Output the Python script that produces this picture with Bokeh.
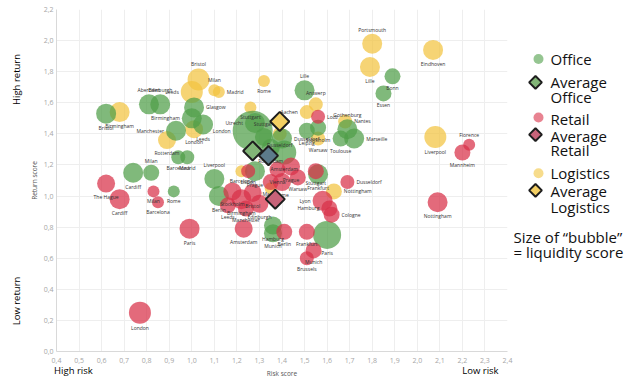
import numpy as np
from bokeh.plotting import figure
from bokeh.models import ColumnDataSource, FixedTicker, LinearAxis, Range1d
from bokeh.layouts import row
from bokeh.embed import file_html
from bokeh.resources import INLINE
from bokeh.core.properties import value, field

# ---------------- data ----------------
office_city = ["Bristol", "Aberdeen", "Edinburgh", "Glasgow", "Birmingham", "Leeds", "Manchester",
               "Barcelona", "Madrid", "Cardiff", "Milan", "Rome", "Liverpool", "Berlin", "London",
               "Utrecht", "Stuttgart", "Dusseldorf", "Rotterdam", "Amsterdam", "Prague", "Lille",
               "Leipzig", "Stockholm", "Gothenburg", "Toulouse", "Marseille", "Bonn", "Essen",
               "Frankfurt", "Hamburg", "Munich", "Paris"]
office_risk = [0.62, 0.81, 0.86, 1.01, 1.00, 1.05, 0.93, 0.94, 0.98, 0.74, 0.82, 0.92, 1.10, 1.12, 1.27,
               1.28, 1.32, 1.40, 1.35, 1.41, 1.28, 1.50, 1.51, 1.56, 1.69, 1.66, 1.72, 1.89, 1.85,
               1.56, 1.36, 1.36, 1.60]
office_return = [1.53, 1.59, 1.59, 1.57, 1.50, 1.46, 1.42, 1.25, 1.25, 1.15, 1.15, 1.03, 1.11, 1.00, 1.42,
                 1.47, 1.38, 1.37, 1.31, 1.28, 1.16, 1.68, 1.42, 1.44, 1.43, 1.37, 1.37, 1.77, 1.66,
                 1.14, 0.81, 0.76, 0.75]
office_liquidity = [2.5, 2.5, 2.5, 2.5, 2.5, 2.5, 2.5, 1.75, 1.75, 2.5, 2.0, 1.5, 2.5, 2.5, 5.0,
                    2.5, 2.25, 2.5, 2.25, 3.0, 2.5, 2.5, 2.0, 2.0, 2.5, 2.0, 2.5, 2.0, 2.0,
                    2.5, 2.25, 2.25, 3.5]

retail_city = ["The Hague", "Cardiff", "Milan", "Barcelona", "Paris", "London", "Amsterdam", "Berlin",
               "Frankfurt", "Munich", "Brussels", "Lyon", "Hamburg", "Cologne", "Dusseldorf", "Stuttgart",
               "Lodz", "Florence", "Mannheim", "Nottingham", "Lisbon", "Vienna", "Prague", "Warsaw",
               "Rome", "Madrid", "Stockholm", "Birmingham", "Bristol", "Edinburgh", "Leeds", "Manchester"]
retail_risk = [0.62, 0.68, 0.83, 0.85, 0.99, 0.77, 1.23, 1.41, 1.51, 1.54, 1.51, 1.58, 1.61, 1.62, 1.69, 1.55,
               1.56, 2.23, 2.20, 2.09, 1.25, 1.38, 1.44, 1.47, 1.40, 1.35, 1.18, 1.22, 1.27, 1.30, 1.16, 1.24]
retail_return = [1.08, 0.98, 1.03, 0.96, 0.79, 0.25, 0.79, 0.77, 0.77, 0.65, 0.60, 0.97, 0.92, 0.88, 1.09, 1.16,
                 1.51, 1.33, 1.28, 0.96, 1.16, 1.17, 1.19, 1.12, 1.09, 1.09, 1.03, 0.98, 1.02, 0.95, 0.94, 0.92]
retail_liquidity = [2.25, 2.5, 1.5, 1.5, 2.5, 2.75, 2.25, 2.0, 2.0, 2.0, 1.75, 2.5, 2.0, 2.0, 1.75, 2.0,
                    1.75, 1.5, 2.0, 2.5, 1.75, 2.0, 2.25, 2.0, 2.25, 2.0, 2.25, 2.5, 2.25, 2.25, 2.0, 2.0]

logistics_city = ["Portsmouth", "Lille", "Eindhoven", "Liverpool", "Bristol", "Leeds", "Milan", "Madrid",
                  "Rome", "Stuttgart", "Birmingham", "Rotterdam", "London", "Antwerp", "Aachen", "Nantes",
                  "Warsaw", "Nottingham", "Barcelona", "Dusseldorf", "Lyon"]
logistics_risk = [1.80, 1.79, 2.07, 2.08, 1.03, 1.00, 1.10, 1.12, 1.32, 1.26, 0.68, 0.89, 1.01, 1.55, 1.51,
                  1.68, 1.56, 1.63, 1.22, 1.39, 1.35]
logistics_return = [1.98, 1.83, 1.94, 1.38, 1.75, 1.67, 1.68, 1.67, 1.74, 1.57, 1.54, 1.36, 1.43, 1.59, 1.54,
                    1.48, 1.37, 1.03, 1.16, 1.40, 1.05]
logistics_liquidity = [2.5, 2.5, 2.5, 2.75, 2.75, 2.75, 1.5, 1.5, 1.5, 1.5, 2.5, 2.25, 2.25, 1.75, 1.75,
                       1.75, 1.75, 2.0, 1.5, 1.75, 1.5]

avg_sector = ["Office", "Retail", "Logistics", "All sectors"]
avg_risk = [1.27, 1.37, 1.39, 1.34]
avg_return = [1.29, 0.98, 1.48, 1.26]

x_ticks = [0.4, 0.5, 0.6, 0.7, 0.8, 0.9, 1.0, 1.1, 1.2, 1.3, 1.4, 1.5, 1.6, 1.7, 1.8, 1.9, 2.0, 2.1, 2.2, 2.3, 2.4]
x_tick_labels = ["0,4", "0,5", "0,6", "0,7", "0,8", "0,9", "1,0", "1,1", "1,2", "1,3", "1,4", "1,5", "1,6",
                 "1,7", "1,8", "1,9", "2,0", "2,1", "2,2", "2,3", "2,4"]
y_ticks = [0.0, 0.2, 0.4, 0.6, 0.8, 1.0, 1.2, 1.4, 1.6, 1.8, 2.0, 2.2]
y_tick_labels = ["0,0", "0,2", "0,4", "0,6", "0,8", "1,0", "1,2", "1,4", "1,6", "1,8", "2,0", "2,2"]

return_hint_at = [1.75, 0.325]
return_hint_text = ["High return", "Low return"]
risk_hint_at = [0.475, 2.28]
risk_hint_text = ["High risk", "Low risk"]

# ---------------- style ----------------
FONT = "Open Sans"
COL = {"Office": "#4f9e48", "Retail": "#d83048", "Logistics": "#f2c440"}
AVG_FILL = {"Office": "#82b577", "Retail": "#c76379", "Logistics": "#f3cf63", "All sectors": "#5c7b8b"}
PX_PER_LIQ = 8  # bubble diameter in px per liquidity unit

LABEL_SIDE = {
    ("Office", "Aberdeen"): "above", ("Office", "Edinburgh"): "above", ("Office", "Glasgow"): "right",
    ("Office", "Birmingham"): "left", ("Office", "Manchester"): "left", ("Office", "Milan"): "above",
    ("Office", "Liverpool"): "above", ("Office", "Lille"): "above", ("Office", "Marseille"): "right",
    ("Office", "Stuttgart"): "above", ("Office", "Utrecht"): "left", ("Office", "Dusseldorf"): "right",
    ("Office", "Gothenburg"): "above", ("Office", "London"): "left",
    ("Logistics", "Bristol"): "above", ("Logistics", "Leeds"): "left", ("Logistics", "Milan"): "above",
    ("Logistics", "Madrid"): "right", ("Logistics", "Portsmouth"): "above", ("Logistics", "Nantes"): "right",
    ("Logistics", "Antwerp"): "above", ("Logistics", "Aachen"): "left", ("Logistics", "Nottingham"): "right",
    ("Retail", "Florence"): "above", ("Retail", "Dusseldorf"): "right", ("Retail", "Lyon"): "left",
    ("Retail", "Hamburg"): "left", ("Retail", "Cologne"): "right", ("Retail", "Lodz"): "right",
}


def make_source(sector, cities, risk, ret, liq):
    d = PX_PER_LIQ * np.array(liq, dtype=float)
    xo, yo, al, bl = [], [], [], []
    for c, r in zip(cities, d / 2):
        side = LABEL_SIDE.get((sector, c), "below")
        if side == "below":
            xo.append(0); yo.append(r + 1); al.append("center"); bl.append("top")
        elif side == "above":
            xo.append(0); yo.append(-(r + 1)); al.append("center"); bl.append("bottom")
        elif side == "left":
            xo.append(-(r + 2)); yo.append(0); al.append("right"); bl.append("middle")
        else:
            xo.append(r + 2); yo.append(0); al.append("left"); bl.append("middle")
    return ColumnDataSource(dict(x=risk, y=ret, size=d, city=cities, xo=xo, yo=yo, al=al, bl=bl))


def plain_axis(ax):
    ax.major_tick_line_color = None
    ax.minor_tick_line_color = None
    ax.major_tick_out = 0
    ax.major_tick_in = 0
    ax.minor_tick_out = 0
    ax.minor_tick_in = 0
    ax.major_label_text_font = FONT


p = figure(width=513, height=380, x_range=Range1d(0.4, 2.4), y_range=Range1d(0.0, 2.2),
           output_backend="svg", toolbar_location=None,
           min_border_left=56, min_border_right=6, min_border_top=9, min_border_bottom=26)
p.outline_line_color = None
p.xaxis.ticker = FixedTicker(ticks=x_ticks)
p.yaxis.ticker = FixedTicker(ticks=y_ticks)
p.xaxis.major_label_overrides = dict(zip(x_ticks, x_tick_labels))
p.yaxis.major_label_overrides = dict(zip(y_ticks, y_tick_labels))
for ax in (p.xaxis[0], p.yaxis[0]):
    plain_axis(ax)
    ax.axis_line_color = "#d9d9d9"
    ax.major_label_text_font_size = "7px"
    ax.major_label_text_color = "#a6a6a6"
    ax.axis_label_text_font = FONT
    ax.axis_label_text_font_size = "6.5px"
    ax.axis_label_text_font_style = "normal"
    ax.axis_label_text_color = "#555555"
p.yaxis.major_label_standoff = 3
p.yaxis.axis_label_standoff = 2
p.xaxis.major_label_standoff = 6
p.xaxis.axis_label_standoff = 3
p.yaxis.axis_label = "Return score"
p.xaxis.axis_label = "Risk score"
p.grid.grid_line_color = "#eeeeee"

# outer hint axes ("High/Low return", "High/Low risk")
ret_hint = LinearAxis(ticker=FixedTicker(ticks=return_hint_at),
                      major_label_overrides=dict(zip(return_hint_at, return_hint_text)))
plain_axis(ret_hint)
ret_hint.axis_line_color = None
ret_hint.major_label_orientation = "vertical"
ret_hint.major_label_text_font_size = "9.5px"
ret_hint.major_label_text_color = "#000000"
ret_hint.major_label_standoff = 3
p.add_layout(ret_hint, "left")

risk_hint = LinearAxis(ticker=FixedTicker(ticks=risk_hint_at),
                       major_label_overrides=dict(zip(risk_hint_at, risk_hint_text)))
plain_axis(risk_hint)
risk_hint.axis_line_color = None
risk_hint.major_label_text_font_size = "9.5px"
risk_hint.major_label_text_color = "#000000"
risk_hint.major_label_standoff = -17
p.add_layout(risk_hint, "below")

sources = [
    ("Logistics", make_source("Logistics", logistics_city, logistics_risk, logistics_return, logistics_liquidity)),
    ("Office", make_source("Office", office_city, office_risk, office_return, office_liquidity)),
    ("Retail", make_source("Retail", retail_city, retail_risk, retail_return, retail_liquidity)),
]
for sector, src in sources:
    p.scatter(x="x", y="y", size="size", source=src, marker="circle",
              fill_color=COL[sector], fill_alpha=0.72, line_color=None)
for sector, src in sources:
    p.text(x="x", y="y", text="city", source=src, x_offset=field("xo"), y_offset=field("yo"),
           text_align=field("al"), text_baseline=field("bl"), text_font=value(FONT),
           text_font_size="5px", text_color="#333333")

avg_src = ColumnDataSource(dict(x=avg_risk, y=avg_return, sector=avg_sector,
                                fill=[AVG_FILL[s] for s in avg_sector]))
p.scatter(x="x", y="y", source=avg_src, marker="square", size=13.5, angle=np.pi / 4,
          fill_color="fill", fill_alpha=1.0, line_color="#1e1e1e", line_width=2)

# ---------------- legend panel ----------------
leg = figure(width=120, height=380, x_range=Range1d(0, 120), y_range=Range1d(380, 0),
             output_backend="svg", toolbar_location=None, x_axis_location=None, y_axis_location=None,
             min_border=0)
leg.grid.visible = False
leg.outline_line_color = None

legend_sectors = ["Office", "Retail", "Logistics"]
circ_y = [55, 120, 182]
diam_y = [81, 139, 201]
leg.scatter(x=[25] * 3, y=circ_y, size=10, marker="circle",
            fill_color=[COL[s] for s in legend_sectors], fill_alpha=0.6, line_color=None)
leg.scatter(x=[22] * 3, y=diam_y, size=9, marker="square", angle=np.pi / 4,
            fill_color=[AVG_FILL[s] for s in legend_sectors], line_color="#1e1e1e", line_width=2)

leg_text_x = [37] * 9 + [0, 0]
leg_text_y = [55, 81, 97, 122, 141, 156, 182, 202, 219, 253, 269]
leg_text = ["Office", "Average", "Office", "Retail", "Average", "Retail", "Logistics", "Average",
            "Logistics", "Size of \u201cbubble\u201d", "= liquidity score"]
leg.text(x=leg_text_x, y=leg_text_y, text=leg_text, text_font=value(FONT), text_font_size="15px",
         text_baseline="middle", text_align="left", text_color="#111111")

layout = row(p, leg)
open("out.html", "w").write(file_html(layout, INLINE))
